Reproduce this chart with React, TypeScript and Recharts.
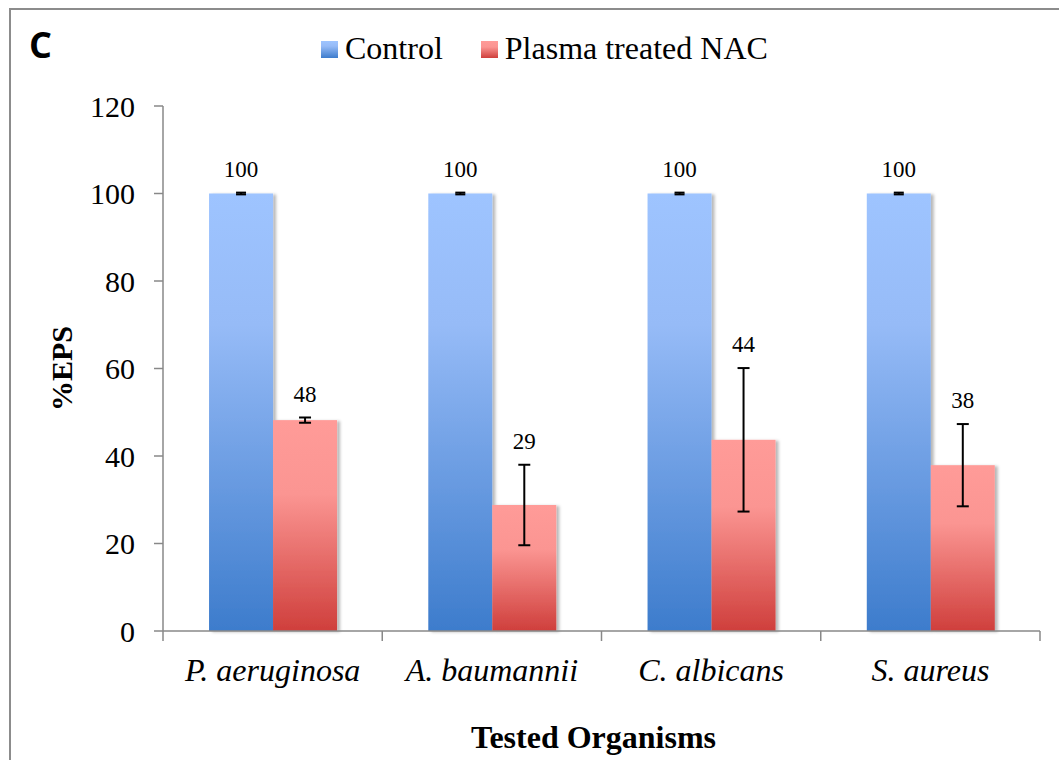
import React from 'react'
import { Bar, BarChart, ErrorBar, LabelList, Label, Legend, XAxis, YAxis } from 'recharts'

const organisms = ['P. aeruginosa', 'A. baumannii', 'C. albicans', 'S. aureus']
const controlValues = [100, 100, 100, 100]
const controlErrors = [0.2, 0.2, 0.2, 0.2]
const nacValues = [48.2, 28.8, 43.7, 37.9]
const nacErrors = [0.6, 9.2, 16.4, 9.4]
const yTicks = [0, 20, 40, 60, 80, 100, 120]

const data = organisms.map((name, i) => ({
  name,
  control: controlValues[i],
  controlErr: controlErrors[i],
  nac: nacValues[i],
  nacErr: nacErrors[i],
}))

const W = 1059
const H = 760
const Y_W = 163
const M_RIGHT = 19
const BAND = (W - Y_W - M_RIGHT) / organisms.length
const SERIF = '"Liberation Serif", "Times New Roman", serif'
const AXIS = '#888888'

function CategoryTick(props: any) {
  const { x, y, payload, index } = props
  const last = index === organisms.length - 1
  return (
    <g>
      <line x1={x - BAND / 2} x2={x - BAND / 2} y1={y} y2={y + 10} stroke={AXIS} strokeWidth={1.5} />
      {last && <line x1={x + BAND / 2} x2={x + BAND / 2} y1={y} y2={y + 10} stroke={AXIS} strokeWidth={1.5} />}
      <text x={x} y={y + 50} textAnchor="middle" fontFamily={SERIF} fontSize={32} fontStyle="italic" fill="#000">
        {payload.value}
      </text>
    </g>
  )
}

const makeValueLabel = (errs: number[]) => (props: any) => {
  const { x, y, width, height, value, index } = props
  const perUnit = height / value
  const top = y - errs[index] * perUnit
  return (
    <text x={x + width / 2} y={top - 16} textAnchor="middle" fontFamily={SERIF} fontSize={23} fill="#000">
      {Math.round(value)}
    </text>
  )
}

const shadowBar = (fill: string) => (props: any) => {
  const { x, y, width, height } = props
  return <rect x={x} y={y} width={width} height={height} fill={fill} filter="url(#barShadow)" />
}

function renderLegend(props: any) {
  const { payload } = props
  return (
    <div style={{ display: 'flex', fontFamily: SERIF, fontSize: 32, lineHeight: '32px', color: '#000' }}>
      {payload.map((p: any, i: number) => (
        <div key={p.value} style={{ display: 'flex', alignItems: 'flex-start', marginRight: i === 0 ? 38 : 0 }}>
          <svg width={17} height={17} style={{ marginTop: 9, marginRight: 7 }}>
            <rect width={17} height={17} fill={i === 0 ? 'url(#gradControl)' : 'url(#gradNac)'} />
          </svg>
          <span>{p.value}</span>
        </div>
      ))}
    </div>
  )
}

export default function App() {
  return (
    <div style={{ position: 'absolute', left: 0, top: 0, width: W, height: H, background: '#fff', overflow: 'hidden' }}>
      <div
        style={{
          position: 'absolute',
          left: 9,
          top: 8,
          width: W,
          height: H,
          borderLeft: '2px solid #8c8c8c',
          borderTop: '2px solid #8c8c8c',
        }}
      />
      <div
        style={{
          position: 'absolute',
          left: 29,
          top: 22,
          fontFamily: '"Open Sans", sans-serif',
          fontWeight: 700,
          fontSize: 36,
          lineHeight: '46px',
        }}
      >
        C
      </div>
      <BarChart
        width={W}
        height={H}
        data={data}
        margin={{ top: 74, right: M_RIGHT, left: 0, bottom: 0 }}
        barCategoryGap="21%"
        barGap={0}
      >
        <defs>
          <linearGradient id="gradControl" x1="0" y1="0" x2="0" y2="1">
            <stop offset="0%" stopColor="#9EC4FF" />
            <stop offset="30%" stopColor="#96BBF7" />
            <stop offset="100%" stopColor="#3D7CCC" />
          </linearGradient>
          <linearGradient id="gradNac" x1="0" y1="0" x2="0" y2="1">
            <stop offset="0%" stopColor="#FF9B98" />
            <stop offset="35%" stopColor="#FB9592" />
            <stop offset="100%" stopColor="#CF3F3C" />
          </linearGradient>
          <filter id="barShadow" x="-10%" y="-5%" width="130%" height="115%">
            <feDropShadow dx="3" dy="1" stdDeviation="1.5" floodColor="#000" floodOpacity="0.28" />
          </filter>
        </defs>
        <XAxis
          dataKey="name"
          height={H - 631}
          stroke={AXIS}
          strokeWidth={1.5}
          tickLine={false}
          tickSize={0}
          tickMargin={0}
          tick={<CategoryTick />}
          interval={0}
        >
          <Label
            content={(p: any) => {
              const vb = p.viewBox
              return (
                <text x={vb.x + vb.width / 2 - 8} y={748} textAnchor="middle" fontFamily={SERIF} fontSize={32} fontWeight={700} fill="#000">
                  Tested Organisms
                </text>
              )
            }}
          />
        </XAxis>
        <YAxis
          width={Y_W}
          domain={[0, 120]}
          ticks={yTicks}
          interval={0}
          stroke={AXIS}
          strokeWidth={1.5}
          tickSize={9}
          tickMargin={19}
          tick={{ fill: '#000', fontFamily: SERIF, fontSize: 30 }}
        >
          <Label
            content={(p: any) => {
              const vb = p.viewBox
              const cy = vb.y + vb.height / 2
              return (
                <text
                  x={72}
                  y={cy}
                  transform={`rotate(-90, 72, ${cy})`}
                  textAnchor="middle"
                  fontFamily={SERIF}
                  fontSize={30}
                  fontWeight={700}
                  fill="#000"
                >
                  %EPS
                </text>
              )
            }}
          />
        </YAxis>
        <Legend content={renderLegend} verticalAlign="top" wrapperStyle={{ top: 32, left: 321, width: 'auto' }} />
        <Bar dataKey="control" name="Control" fill="url(#gradControl)" shape={shadowBar('url(#gradControl)')} isAnimationActive={false}>
          <ErrorBar dataKey="controlErr" width={5} strokeWidth={2} stroke="#000" direction="y" isAnimationActive={false} />
          <LabelList dataKey="control" content={makeValueLabel(controlErrors)} />
        </Bar>
        <Bar dataKey="nac" name="Plasma treated NAC" fill="url(#gradNac)" shape={shadowBar('url(#gradNac)')} isAnimationActive={false}>
          <ErrorBar dataKey="nacErr" width={6} strokeWidth={2} stroke="#000" direction="y" isAnimationActive={false} />
          <LabelList dataKey="nac" content={makeValueLabel(nacErrors)} />
        </Bar>
      </BarChart>
    </div>
  )
}
